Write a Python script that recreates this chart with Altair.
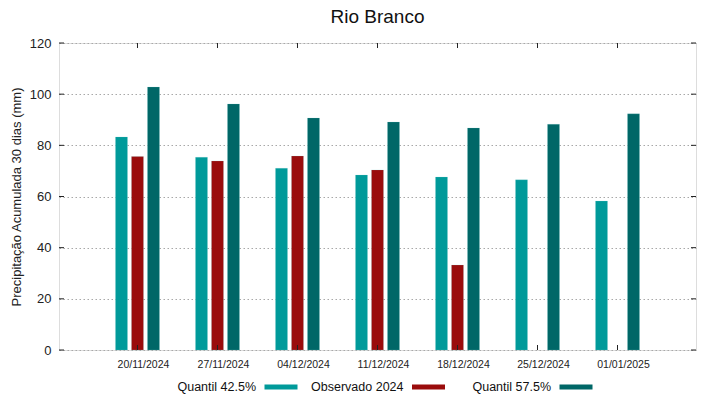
import altair as alt
import pandas as pd

dates = ["20/11/2024", "27/11/2024", "04/12/2024", "11/12/2024",
         "18/12/2024", "25/12/2024", "01/01/2025"]
q425 = [83.3, 75.3, 71.0, 68.4, 67.6, 66.5, 58.2]
obs = [75.6, 73.9, 75.8, 70.4, 33.2, None, None]
q575 = [102.8, 96.2, 90.7, 89.1, 86.8, 88.2, 92.3]
series = ["Quantil 42.5%", "Observado 2024", "Quantil 57.5%"]
colors = ["#009a9a", "#9a0c0c", "#006767"]
yticks = [0, 20, 40, 60, 80, 100, 120]

rows = []
for i, d in enumerate(dates):
    for s, vals in zip(series, [q425, obs, q575]):
        if vals[i] is not None:
            rows.append({"date": d, "series": s, "value": vals[i]})
df = pd.DataFrame(rows)
df_dates = pd.DataFrame({"date": dates})
df_y = pd.DataFrame({"v": yticks})
df_leg = pd.DataFrame({"series": series})

W, H = 637, 307
FONT = "Liberation Sans"

xscale = alt.Scale(domain=dates, paddingInner=0.4, paddingOuter=0.681)
yscale = alt.Scale(domain=[0, 120], nice=False)
cscale = alt.Scale(domain=series, range=colors)

bars = alt.Chart(df).mark_bar(stroke="#7fd0d0", strokeWidth=0.3, strokeOpacity=0.6).encode(
    x=alt.X("date:N", sort=dates, scale=xscale,
            axis=alt.Axis(title=None, labelAngle=0, labelFontSize=10.5, labelOffset=6,
                          ticks=False, tickSize=0, domain=False, labelPadding=9,
                          labelColor="#222", labelFont=FONT)),
    xOffset=alt.XOffset("series:N", sort=series,
                        scale=alt.Scale(domain=series, paddingInner=0.25, paddingOuter=0.125)),
    y=alt.Y("value:Q", scale=yscale,
            axis=alt.Axis(values=yticks, title="Precipitação Acumulada 30 dias (mm)",
                          titleFontSize=13, titleFont=FONT, titleFontWeight="normal",
                          titleColor="#222", titlePadding=6,
                          labelFontSize=13, labelFont=FONT, labelColor="#222",
                          ticks=False, tickSize=0, domain=False, labelPadding=8,
                          grid=True, gridDash=[1.5, 2.5], gridColor="#a8a8a8", gridWidth=1)),
    color=alt.Color("series:N", scale=cscale, legend=None),
)

tick_bottom = alt.Chart(df_dates).mark_rule(color="#222").encode(
    x=alt.X("date:N", sort=dates, scale=xscale, axis=None),
    y=alt.value(H), y2=alt.value(H - 5))
tick_top = alt.Chart(df_dates).mark_rule(color="#222").encode(
    x=alt.X("date:N", sort=dates, scale=xscale, axis=None),
    y=alt.value(0), y2=alt.value(5))
tick_left = alt.Chart(df_y).mark_rule(color="#222").encode(
    y=alt.Y("v:Q", scale=yscale), x=alt.value(0), x2=alt.value(5))
tick_right = alt.Chart(df_y).mark_rule(color="#222").encode(
    y=alt.Y("v:Q", scale=yscale), x=alt.value(W), x2=alt.value(W - 5))

# legend drawn as marks: label text to the left of its colour swatch
legx = alt.X("series:N", sort=series,
             scale=alt.Scale(type="point", domain=series, range=[222, 517], padding=0),
             axis=None)
leg_swatch = alt.Chart(df_leg).mark_point(
    shape="M-1,-0.15L1,-0.15L1,0.15L-1,0.15Z", filled=True, size=1089, opacity=1,
    clip=False).encode(
    x=legx, y=alt.value(344),
    color=alt.Color("series:N", scale=cscale, legend=None))
leg_text = alt.Chart(df_leg).mark_text(
    align="right", baseline="middle", dx=-25, fontSize=12.5, font=FONT,
    color="#111", clip=False).encode(
    x=legx, y=alt.value(344), text="series:N")

chart = alt.layer(bars, tick_bottom, tick_top, tick_left, tick_right,
                  leg_swatch, leg_text).resolve_scale(x="independent").properties(
    width=W, height=H,
    title=alt.TitleParams("Rio Branco", fontSize=19, font=FONT, fontWeight="normal",
                          anchor="middle", color="#111", offset=10),
    autosize=alt.AutoSizeParams(type="none"),
    padding={"left": 51, "top": 35, "right": 15, "bottom": 49},
).configure_view(stroke="#222", strokeWidth=1).configure(background="white")

chart.save("out.html", embed_options={"renderer": "svg", "actions": False})
